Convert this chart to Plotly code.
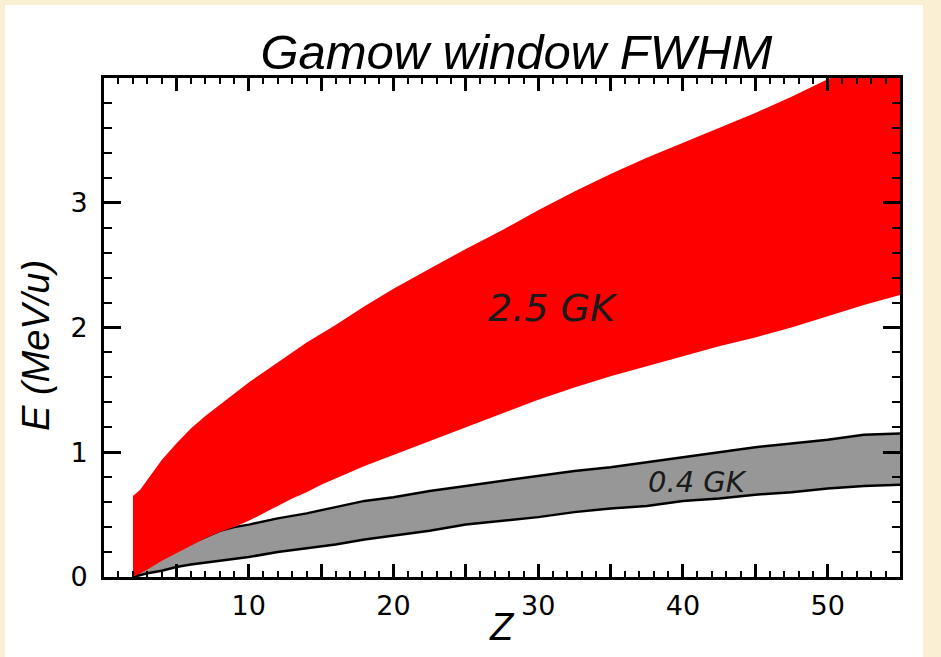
import plotly.graph_objects as go

# ---- data ----
Z_hot = [2, 2.5, 3, 4, 5, 6, 7, 8, 9, 10, 11, 12, 13, 14, 15, 16, 18, 20, 22.5,
         25, 27.5, 30, 32.5, 35, 37.5, 40, 42.5, 45, 47.5, 50, 52.5, 55]
E_hot_upper = [0.65, 0.70, 0.78, 0.94, 1.07, 1.19, 1.29, 1.38, 1.47, 1.56, 1.64,
               1.72, 1.80, 1.88, 1.95, 2.02, 2.17, 2.31, 2.47, 2.63, 2.78, 2.94,
               3.09, 3.23, 3.36, 3.48, 3.60, 3.72, 3.85, 3.99, 4.12, 4.25]
E_hot_lower = [0.00, 0.03, 0.06, 0.13, 0.19, 0.25, 0.31, 0.36, 0.40, 0.45, 0.51,
               0.57, 0.63, 0.68, 0.74, 0.79, 0.89, 0.98, 1.09, 1.20, 1.31, 1.42,
               1.52, 1.61, 1.69, 1.77, 1.85, 1.92, 2.00, 2.09, 2.18, 2.26]

Z_cold = [2, 3, 4, 5, 6, 7, 8, 9, 10, 12, 14, 16, 18, 20, 22.5, 25, 27.5, 30,
          32.5, 35, 37.5, 40, 42.5, 45, 47.5, 50, 52.5, 55]
E_cold_upper = [0.00, 0.09, 0.16, 0.22, 0.27, 0.32, 0.37, 0.40, 0.42, 0.47, 0.51,
                0.56, 0.61, 0.64, 0.69, 0.73, 0.77, 0.81, 0.85, 0.88, 0.92, 0.96,
                1.00, 1.04, 1.07, 1.10, 1.14, 1.15]
E_cold_lower = [0.00, 0.03, 0.05, 0.08, 0.10, 0.115, 0.13, 0.145, 0.16, 0.20, 0.23,
                0.26, 0.30, 0.33, 0.37, 0.42, 0.45, 0.48, 0.52, 0.55, 0.57, 0.61,
                0.63, 0.66, 0.68, 0.71, 0.73, 0.74]

band_labels = ["2.5 GK", "0.4 GK"]
label_pos = [(31.0, 2.16), (41.0, 0.76)]

x_tickvals = [5, 10, 15, 20, 25, 30, 35, 40, 45, 50, 55]
x_ticktext = ["", "10", "", "20", "", "30", "", "40", "", "50", ""]
y_tickvals = [0, 1, 2, 3]
y_ticktext = ["0", "1", "2", "3"]

RED = "#FF0000"
GREY = "#979797"

fig = go.Figure()

# grey band (0.4 GK)
fig.add_trace(go.Scatter(
    x=Z_cold + Z_cold[::-1], y=E_cold_upper + E_cold_lower[::-1],
    fill="toself", fillcolor=GREY, mode="lines", line=dict(width=0),
    hoverinfo="skip", showlegend=False))
fig.add_trace(go.Scatter(x=Z_cold, y=E_cold_upper, mode="lines",
                         line=dict(color="black", width=2.5), showlegend=False))
fig.add_trace(go.Scatter(x=Z_cold, y=E_cold_lower, mode="lines",
                         line=dict(color="black", width=2.5), showlegend=False))

# red band (2.5 GK), drawn on top
fig.add_trace(go.Scatter(
    x=Z_hot + Z_hot[::-1], y=E_hot_upper + E_hot_lower[::-1],
    fill="toself", fillcolor=RED, mode="lines", line=dict(width=0, color=RED),
    hoverinfo="skip", showlegend=False))

tickfont = dict(family="DejaVu Sans", size=27, color="black")

fig.update_xaxes(
    range=[0, 55], showgrid=False, zeroline=False,
    showline=True, linecolor="black", linewidth=3, mirror="allticks",
    ticks="inside", ticklen=13, tickwidth=2.5, tickcolor="black",
    tickvals=x_tickvals, ticktext=x_ticktext, tickfont=tickfont,
    ticklabelstandoff=3,
    minor=dict(ticks="inside", dtick=1, ticklen=6, tickwidth=2, tickcolor="black"),
)
fig.update_yaxes(
    range=[0, 4], showgrid=False, zeroline=False,
    showline=True, linecolor="black", linewidth=3, mirror="allticks",
    ticks="inside", ticklen=17, tickwidth=2.5, tickcolor="black",
    tickvals=y_tickvals + [4], ticktext=y_ticktext + [""], tickfont=tickfont,
    ticklabelstandoff=8,
    minor=dict(ticks="inside", dtick=0.2, ticklen=8, tickwidth=2, tickcolor="black"),
)

annos = [
    dict(x=label_pos[0][0], y=label_pos[0][1], xref="x", yref="y",
         text="<i>" + band_labels[0] + "</i>", showarrow=False,
         font=dict(family="DejaVu Sans", size=38, color="#1a1a1a")),
    dict(x=label_pos[1][0], y=label_pos[1][1], xref="x", yref="y",
         text="<i>" + band_labels[1] + "</i>", showarrow=False,
         font=dict(family="DejaVu Sans", size=29, color="#1a1a1a")),
    dict(x=-0.0854, y=0.463, xref="paper", yref="paper", textangle=-90,
         xanchor="center", yanchor="middle",
         text="<i>E (MeV/u)</i>", showarrow=False,
         font=dict(family="Liberation Sans", size=38, color="black")),
    dict(x=0.5, y=-0.101, xref="paper", yref="paper", text="<i>Z</i>",
         xanchor="center", yanchor="middle", showarrow=False,
         font=dict(family="Liberation Sans", size=38, color="black")),
]

fig.update_layout(
    width=941, height=657,
    margin=dict(l=104, r=41, t=78, b=80),
    paper_bgcolor="#FBEFD3", plot_bgcolor="white",
    title=dict(text="<i>Gamow window FWHM</i>", x=0.518, xref="paper",
               xanchor="center", y=1 - 52 / 657, yanchor="middle",
               font=dict(family="Liberation Sans", size=49, color="black")),
    annotations=annos,
    shapes=[dict(type="rect", xref="paper", yref="paper", layer="below",
                 x0=-(104 - 5) / 796, x1=(923 - 104) / 796,
                 y0=-(657 - 577.5 + 2) / 499.5, y1=(577.5 - 5) / 499.5,
                 fillcolor="white", line=dict(width=0))],
)

fig.write_html("out.html")
